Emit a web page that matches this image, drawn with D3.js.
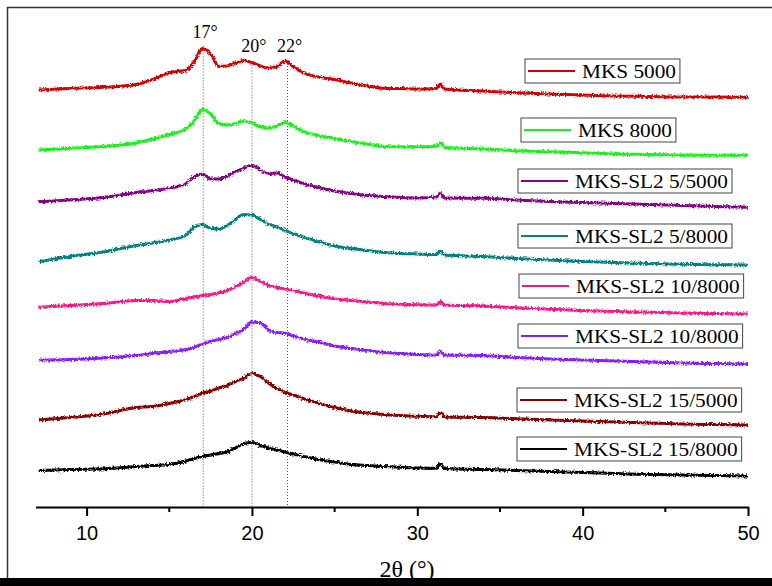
<!DOCTYPE html>
<html>
<head>
<meta charset="utf-8">
<script src="https://cdn.jsdelivr.net/npm/d3@7"></script>
<style>
  body { margin: 0; background: #fff; }
  svg { display: block; }
</style>
</head>
<body>
<script>
// Data: 2theta grid (deg) and stacked intensities (a.u.)
var twoTheta = [7.1, 9, 11, 13, 14, 15, 16, 16.5, 17, 17.5, 18, 18.5, 19, 19.5, 20, 20.5, 21, 21.5, 22, 22.5,
  23, 24, 25, 26, 27, 28, 29, 30, 31.15, 31.4, 31.65, 34, 36, 38, 40, 42, 44, 46, 48, 50];

var mks5000 = [417, 418.5, 419.7, 422.5, 427.5, 434.3, 436.5, 445, 458.5, 453, 440.5, 441, 444, 446.5, 444.5, 441, 439, 440.3, 446, 440.3,
  435, 430, 427.5, 424, 421, 418.7, 418.5, 418, 418.5, 423, 418, 416, 414.3, 413, 412, 411, 410.5, 410, 410, 409.7];
var mks8000 = [357, 358.7, 360.5, 364, 368, 372.5, 378, 386, 397.5, 393, 383.5, 382, 383.5, 386, 384.3, 380.5, 379, 381, 384.5, 381,
  376.5, 371.5, 368.5, 365.5, 363, 360.5, 360.3, 360.3, 360.5, 364.3, 359.5, 358, 356.3, 355.2, 354.2, 353, 352.5, 352, 351.8, 351.7];
var sl2_5_5000 = [305.3, 307, 309.5, 314.5, 316.5, 318.7, 323.5, 330.5, 333, 328, 328, 331, 335.5, 338.7, 341.5, 337, 333.5, 334, 330, 327,
  324, 319.5, 316, 313.5, 311.5, 310.5, 309.5, 309, 310, 313.7, 309, 308.7, 307, 305.5, 304.5, 303.5, 302.5, 301.5, 300.5, 299.7];
var sl2_5_8000 = [245.3, 250.5, 255, 261.5, 264, 267, 271.5, 280, 282.5, 278.5, 278, 281.5, 287.5, 292.5, 292, 287.5, 283, 280, 276.5, 273.5,
  270.5, 265.5, 261, 258.5, 256.5, 254.5, 253.5, 253, 252.5, 256, 252, 250.5, 248.5, 247, 245.5, 244.5, 243.5, 242.8, 242.3, 242];
var sl2_10_8000a = [199.7, 201.5, 203.5, 206.5, 206.5, 205.5, 208.5, 210, 211.5, 212.5, 214.2, 216.5, 220, 225, 229.5, 226, 221.5, 219.7, 218, 216.5,
  214.5, 211, 208, 206.5, 205, 203.5, 202.7, 202.2, 202, 205.5, 202, 201, 199.2, 197.7, 196.5, 195.5, 194.7, 194, 193.5, 193];
var sl2_10_8000b = [147, 147.5, 149, 151.5, 153.5, 155.5, 157.5, 159.5, 163, 165.5, 167.5, 169.5, 173.5, 177.7, 185, 184.3, 177, 174.5, 173.8, 171,
  168.5, 165, 161, 158.5, 156.5, 154.5, 153.5, 152.5, 152, 155.5, 152, 151.5, 149.5, 148, 147, 146, 145, 144, 143.5, 143];
var sl2_15_5000 = [87, 89.5, 93, 99.5, 100.5, 103.5, 107.5, 110.5, 114, 116, 119, 121.5, 125.5, 128.7, 133.5, 130.5, 124, 118.7, 114.5, 112,
  109, 104, 99.5, 96, 94, 92.5, 91.5, 90.7, 90.2, 94.5, 90, 89.5, 88.2, 87, 86, 85, 84, 83, 82.5, 82];
var sl2_15_8000 = [36.5, 37.5, 38.2, 40.5, 41.5, 42.5, 46, 48.5, 50.5, 52, 53.5, 55, 59, 63.5, 64.5, 61.5, 59, 57, 55, 53,
  51, 47.5, 45, 42.5, 41.5, 40.5, 39.7, 39, 38.7, 43, 38.5, 37.5, 36.5, 35.5, 34.5, 33.5, 32.5, 32, 31.5, 31];

var seriesNames = ["MKS 5000", "MKS 8000", "MKS-SL2 5/5000", "MKS-SL2 5/8000",
  "MKS-SL2 10/8000", "MKS-SL2 10/8000", "MKS-SL2 15/5000", "MKS-SL2 15/8000"];
var seriesValues = [mks5000, mks8000, sl2_5_5000, sl2_5_8000, sl2_10_8000a, sl2_10_8000b, sl2_15_5000, sl2_15_8000];
var seriesColors = ["#d50000", "#19f319", "#870087", "#008282", "#ff1285", "#8a1aff", "#8b0000", "#000000"];

var xTicks = [10, 20, 30, 40, 50];
var xMinorTicks = [15, 25, 35, 45];
var peakPositions = [17.05, 20, 22.15];
var peakLabels = ["17°", "20°", "22°"];

// Layout
var width = 772;
var height = 586;
var legendLeft = [525, 521, 518, 518, 519, 518, 517, 517];
var legendTop = [59, 118, 169, 224, 274, 324, 388, 437];

var x = d3.scaleLinear().domain([7, 50]).range([37, 748]);
var y = d3.scaleLinear().domain([0, 500]).range([507, 7]);

var svg = d3.select("body")
  .append("svg")
  .attr("width", width)
  .attr("height", height);

// rough, noisy look of the measured traces
var filter = svg.append("defs").append("filter")
  .attr("id", "rough")
  .attr("x", "-2%").attr("y", "-30%")
  .attr("width", "104%").attr("height", "160%");
filter.append("feTurbulence")
  .attr("type", "fractalNoise")
  .attr("baseFrequency", "0.55")
  .attr("numOctaves", 2)
  .attr("seed", 4)
  .attr("result", "noise");
filter.append("feDisplacementMap")
  .attr("in", "SourceGraphic")
  .attr("in2", "noise")
  .attr("scale", 4)
  .attr("xChannelSelector", "R")
  .attr("yChannelSelector", "G");

// Frame
svg.append("path")
  .attr("d", "M7.5,580 V7.5 H772")
  .attr("fill", "none")
  .attr("stroke", "#333")
  .attr("stroke-width", 1.5);

// Dotted peak guides, from the top trace down to the axis
svg.selectAll(".guide")
  .data(peakPositions)
  .enter()
  .append("line")
  .attr("class", "guide")
  .attr("x1", function (d) { return x(d); })
  .attr("x2", function (d) { return x(d); })
  .attr("y1", function (d) {
    var i = d3.minIndex(twoTheta, function (t) { return Math.abs(t - d); });
    return y(mks5000[i]) + 2;
  })
  .attr("y2", y(0))
  .attr("stroke", "#555")
  .attr("stroke-width", 1)
  .attr("stroke-dasharray", "1,2");

svg.selectAll(".peak-label")
  .data(peakPositions)
  .enter()
  .append("text")
  .attr("class", "peak-label")
  .attr("x", function (d) { return x(d) + 2; })
  .attr("y", function (d, i) { return i === 0 ? 38 : 52; })
  .attr("text-anchor", "middle")
  .style("font-family", "'Liberation Serif', 'Times New Roman', serif")
  .style("font-size", "18px")
  .text(function (d, i) { return peakLabels[i]; });

// Traces
var line = d3.line()
  .x(function (d) { return x(d[0]); })
  .y(function (d) { return y(d[1]); })
  .curve(d3.curveMonotoneX);

svg.selectAll(".trace")
  .data(seriesValues)
  .enter()
  .append("path")
  .attr("class", "trace")
  .attr("d", function (vals) {
    return line(vals.map(function (v, i) { return [twoTheta[i], v]; }));
  })
  .attr("fill", "none")
  .attr("stroke", function (d, i) { return seriesColors[i]; })
  .attr("stroke-width", 3)
  .attr("filter", "url(#rough)");

// X axis
var xAxis = svg.append("g")
  .attr("transform", "translate(0," + y(0) + ")")
  .call(d3.axisBottom(x).tickValues(xTicks).tickSize(9).tickSizeOuter(0).tickPadding(10));
xAxis.select(".domain").attr("stroke", "#000").attr("stroke-width", 2).attr("d", "M36,0.5 H749");
xAxis.selectAll(".tick line").attr("stroke", "#000").attr("stroke-width", 2);
xAxis.selectAll(".tick text")
  .style("font-family", "'Liberation Sans', Arial, sans-serif")
  .style("font-size", "20px")
  .attr("fill", "#000");

svg.append("g")
  .attr("transform", "translate(0," + y(0) + ")")
  .selectAll("line")
  .data(xMinorTicks)
  .enter()
  .append("line")
  .attr("x1", function (d) { return x(d); })
  .attr("x2", function (d) { return x(d); })
  .attr("y1", 0)
  .attr("y2", 5)
  .attr("stroke", "#000")
  .attr("stroke-width", 2);

svg.append("text")
  .attr("x", 407)
  .attr("y", 577)
  .attr("text-anchor", "middle")
  .style("font-family", "'Liberation Serif', 'Times New Roman', serif")
  .style("font-size", "24px")
  .text("2θ (°)");

// Legend boxes, one per trace
var legend = svg.selectAll(".legend")
  .data(seriesNames)
  .enter()
  .append("g")
  .attr("class", "legend")
  .attr("transform", function (d, i) { return "translate(" + legendLeft[i] + "," + legendTop[i] + ")"; });

var box = legend.append("rect")
  .attr("y", 0)
  .attr("height", 24)
  .attr("fill", "#fff")
  .attr("stroke", "#444")
  .attr("stroke-width", 1);

legend.append("line")
  .attr("x1", 3)
  .attr("x2", 50)
  .attr("y1", 12)
  .attr("y2", 12)
  .attr("stroke", function (d, i) { return seriesColors[i]; })
  .attr("stroke-width", 2.2);

var labels = legend.append("text")
  .attr("transform", "translate(57,19) scale(1.12,1)")
  .style("font-family", "'Liberation Serif', 'Times New Roman', serif")
  .style("font-size", "19px")
  .text(function (d) { return d; });

box.attr("width", function (d, i) {
  return 57 + labels.nodes()[i].getComputedTextLength() * 1.12 + 4;
});

// black strip at the bottom
svg.append("rect")
  .attr("x", 0)
  .attr("y", 578)
  .attr("width", width)
  .attr("height", height - 578)
  .attr("fill", "#000");
</script>
</body>
</html>
